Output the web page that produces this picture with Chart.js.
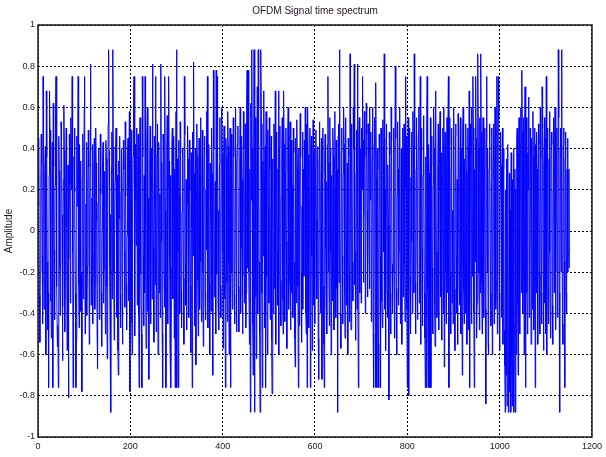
<!DOCTYPE html>
<html>
<head>
<meta charset="utf-8">
<script src="https://cdn.jsdelivr.net/npm/chart.js@4"></script>
<style>
  body { margin: 0; background: #fff; }
  #wrap { width: 606px; height: 457px; }
</style>
</head>
<body>
<div id="wrap"><canvas id="signal" width="606" height="457"></canvas></div>
<script>
// chart text
const chartTitle = "OFDM Signal time spectrum";
const yTitle = "Amplitude";

// tick positions and labels
const xTicks = [0, 200, 400, 600, 800, 1000, 1200];
const xTickLabels = ["0", "200", "400", "600", "800", "1000", "1200"];
const yTicks = [-1, -0.8, -0.6, -0.4, -0.2, 0, 0.2, 0.4, 0.6, 0.8, 1];
const yTickLabels = ["-1", "-0.8", "-0.6", "-0.4", "-0.2", "0", "0.2", "0.4", "0.6", "0.8", "1"];

// signal amplitude, one value per sample
const amplitude = [
  0.12, 0.35, 0.45, -0.31, -0.54, -0.2, 0.21, 0.47, 0.33, -0.12, -0.45, 0.75, 0.42, -0.38, -0.22, 0.29, 0.41, -0.6, 0.68, 0.36, -0.15, -0.48, -0.3, -0.76,
  0.27, 0.68, 0.49, -0.34, -0.21, -0.52, 0.14, 0.43, -0.76, 0.62, 0.31, -0.09, -0.43, 0.22, 0.57, 0.75, 0.38, -0.27, -0.56, -0.46, -0.76, 0.46, 0.29, -0.18,
  -0.41, -0.29, 0.53, 0.44, 0.08, -0.63, -0.37, 0.25, 0.61, 0.39, -0.49, -0.24, 0.17, 0.5, 0.02, -0.58, -0.35, 0.32, -0.81, -0.13, 0.47, 0.23, -0.35, 0.55,
  0.4, 0.2, 0.75, -0.1, -0.76, -0.44, 0.36, 0.5, 0.19, -0.3, -0.76, -0.53, 0.46, 0.12, 0.3, 0.75, -0.26, -0.47, 0.42, 0.07, 0.34, -0.39, -0.2, -0.78,
  0.26, 0.47, -0.33, -0.06, 0.59, 0.75, -0.5, -0.28, 0.13, 0.43, -0.41, -0.17, 0.2, 0.49, 0.31, -0.55, 0.09, 0.38, 0.81, -0.36, -0.22, 0.16, 0.42, -0.45,
  -0.11, 0.28, 0.45, -0.38, -0.25, 0.5, 0.33, 0.05, -0.48, -0.67, 0.14, 0.4, 0.22, -0.43, -0.07, 0.47, 0.18, -0.3, -0.56, 0.01, 0.36, 0.43, -0.35, -0.19,
  0.29, 0.11, -0.5, 0.44, 0.35, -0.27, -0.62, 0.2, 0.52, 0.88, 0.39, -0.14, -0.46, 0.08, -0.88, 0.31, 0.48, -0.33, 0.88, 0.41, -0.2, -0.53, -0.04, 0.24,
  0.37, 0.5, -0.42, -0.16, 0.27, -0.58, -0.7, 0.34, 0.06, 0.46, -0.31, -0.47, 0.19, 0.4, -0.23, -0.55, 0.13, 0.44, 0.3, -0.09, -0.37, 0.53, 0.17, -0.26,
  -0.48, -0.02, 0.39, 0.45, -0.34, 0.21, 0.58, -0.78, -0.19, 0.32, 0.49, -0.44, -0.6, 0.1, 0.36, 0.63, 0.75, -0.28, -0.51, 0.42, 0.15, -0.07, 0.5, -0.36,
  0.23, 0.47, -0.4, -0.76, 0.3, 0.55, 0.41, -0.21, -0.5, -0.76, 0.75, 0.36, -0.12, -0.46, 0.27, -0.3, 0.75, 0.04, -0.57, -0.24, 0.44, 0.6, -0.39, 0.16,
  -0.72, -0.17, 0.35, 0.51, -0.45, 0.22, 0.4, -0.33, 0.81, 0.29, -0.08, -0.54, 0.46, 0.12, -0.26, 0.75, -0.49, -0.14, 0.37, 0.52, -0.6, 0.25, 0.43, -0.3,
  0.18, -0.42, 0.81, 0.33, -0.05, -0.5, -0.76, 0.47, 0.39, -0.2, -0.37, 0.75, 0.1, -0.76, -0.28, 0.41, 0.56, -0.45, 0.2, 0.75, 0.34, -0.13, -0.58, 0.27,
  -0.76, -0.18, 0.42, 0.5, -0.33, 0.14, 0.46, -0.52, 0.3, -0.76, 0.21, 0.58, 0.88, -0.76, 0.35, -0.1, -0.76, 0.44, 0.17, -0.4, 0.53, 0.38, -0.29, -0.47,
  0.09, 0.4, 0.32, -0.23, -0.55, 0.75, 0.47, -0.16, -0.36, 0.25, -0.48, 0.13, 0.51, 0.35, -0.07, -0.42, 0.44, 0.2, -0.27, -0.59, 0.38, 0.02, -0.76, 0.48,
  -0.12, 0.82, 0.28, -0.34, -0.46, 0.4, -0.65, 0.19, 0.52, 0.36, -0.24, -0.51, 0.08, 0.45, -0.38, 0.26, 0.55, -0.15, -0.44, 0.31, 0.49, -0.2, -0.56, 0.11,
  0.37, 0.46, -0.3, -0.43, 0.2, 0.58, -0.09, 0.75, -0.47, 0.15, 0.42, -0.26, -0.6, 0.33, 0.06, -0.39, 0.5, 0.28, -0.18, -0.7, 0.78, 0.4, -0.32, -0.14,
  0.24, -0.5, 0.78, -0.21, 0.75, 0.44, -0.35, 0.1, -0.48, 0.32, 0.55, -0.27, -0.42, 0.17, 0.6, 0.38, -0.1, -0.57, 0.29, 0.51, -0.33, 0.03, -0.76, 0.45,
  0.36, -0.25, -0.44, 0.58, 0.41, -0.15, -0.6, 0.22, 0.5, -0.76, 0.3, 0.47, -0.2, -0.38, 0.14, 0.55, 0.36, -0.31, -0.45, 0.2, 0.6, -0.12, -0.49, 0.33,
  0.42, 0.51, -0.27, -0.49, 0.18, 0.35, 0.6, -0.4, -0.08, 0.46, 0.25, -0.5, -0.22, 0.58, 0.4, -0.35, 0.05, 0.52, -0.47, -0.3, 0.63, 0.78, -0.18, 0.78,
  0.5, -0.2, -0.55, 0.3, -0.88, 0.62, 0.15, 0.88, 0.4, -0.45, -0.7, 0.2, 0.88, -0.88, 0.48, 0.55, -0.32, -0.62, 0.27, 0.7, -0.4, 0.88, 0.6, -0.15,
  -0.5, -0.88, 0.45, 0.88, 0.52, -0.3, -0.76, 0.34, -0.12, 0.68, 0.26, -0.47, 0.41, -0.76, 0.58, 0.37, -0.22, -0.6, 0.49, 0.12, -0.35, 0.55, 0.3, -0.43,
  -0.18, 0.46, -0.52, -0.79, 0.35, 0.1, -0.4, 0.52, 0.43, -0.28, 0.68, -0.55, 0.24, 0.48, -0.1, -0.36, 0.3, 0.68, -0.6, 0.4, 0.51, -0.24, -0.46, 0.17,
  0.36, 0.55, -0.33, -0.5, 0.68, 0.42, -0.2, -0.44, 0.28, 0.5, -0.05, -0.57, 0.2, 0.47, 0.6, -0.38, -0.25, 0.32, 0.53, -0.48, 0.14, 0.44, -0.3, 0.22,
  -0.42, 0.5, 0.38, -0.15, -0.52, -0.66, 0.45, 0.08, -0.35, 0.54, 0.31, -0.27, -0.76, 0.4, -0.46, 0.25, 0.57, 0.36, -0.2, -0.54, 0.12, 0.48, -0.38, 0.3,
  -0.22, 0.44, 0.2, 0.6, -0.4, -0.5, 0.52, -0.76, 0.6, 0.37, -0.28, -0.47, 0.15, 0.5, -0.76, 0.33, 0.46, -0.12, -0.58, 0.26, 0.54, -0.36, -0.2, 0.4,
  -0.45, 0.3, 0.49, 0.06, -0.33, 0.22, 0.41, -0.52, -0.72, 0.35, 0.53, -0.16, -0.4, 0.18, 0.45, -0.72, 0.28, 0.5, -0.27, -0.55, -0.76, 0.36, 0.47, -0.08,
  -0.37, 0.24, -0.5, 0.42, 0.75, 0.33, -0.2, -0.46, 0.55, 0.4, -0.1, -0.6, 0.27, 0.05, -0.34, 0.5, 0.36, -0.48, -0.18, 0.58, 0.2, -0.42, 0.44, -0.28,
  0.3, -0.88, 0.46, 0.52, -0.25, 0.88, 0.15, -0.4, -0.57, 0.38, 0.5, -0.12, -0.45, 0.28, 0.6, 0.42, -0.3, -0.52, 0.2, 0.55, -0.06, -0.36, 0.33, -0.6,
  0.45, 0.37, -0.2, -0.44, 0.86, 0.3, -0.48, 0.52, 0.43, -0.15, -0.34, 0.6, 0.4, 0.81, -0.26, -0.1, -0.53, 0.28, 0.49, -0.38, 0.81, -0.22, -0.76, 0.46,
  0.55, -0.3, 0.12, 0.4, -0.35, 0.5, 0.2, 0.75, 0.44, -0.25, 0.07, 0.58, 0.36, -0.4, -0.18, 0.62, 0.47, 0.1, -0.32, 0.52, 0.38, -0.06, -0.28, 0.6,
  0.15, 0.48, -0.44, -0.2, 0.35, 0.6, -0.5, -0.76, 0.42, 0.55, -0.3, -0.76, 0.72, 0.26, -0.76, 0.4, 0.3, -0.55, -0.76, 0.47, 0.38, -0.12, -0.76, 0.5,
  0.28, -0.34, -0.47, 0.54, 0.4, -0.1, 0.86, -0.38, 0.2, -0.58, 0.45, 0.52, -0.25, -0.42, 0.32, 0.03, -0.82, 0.48, 0.37, -0.3, -0.5, 0.6, 0.44, -0.16,
  -0.4, -0.2, 0.25, 0.5, -0.52, 0.36, 0.8, 0.45, -0.28, -0.6, 0.18, 0.53, 0.3, -0.36, -0.1, 0.47, 0.6, -0.45, -0.24, 0.4, -0.55, 0.22, 0.5, -0.32,
  0.34, 0.52, -0.15, -0.44, 0.75, 0.2, 0.46, -0.38, -0.76, 0.3, 0.55, -0.8, 0.38, 0.5, -0.22, -0.5, 0.26, 0.48, -0.05, -0.4, 0.58, 0.42, -0.3, 0.86,
  0.4, -0.25, -0.5, 0.3, 0.55, -0.12, -0.43, 0.22, 0.48, 0.6, -0.35, -0.2, 0.75, -0.55, 0.38, 0.5, -0.08, -0.46, 0.27, 0.56, 0.43, -0.3, -0.52, -0.76,
  0.36, -0.76, 0.5, 0.75, -0.28, -0.76, 0.42, 0.28, -0.4, -0.76, 0.55, -0.76, 0.32, 0.46, -0.18, -0.5, 0.22, 0.6, 0.4, -0.36, -0.56, 0.68, 0.48, -0.1,
  -0.42, -0.24, 0.3, 0.52, -0.48, 0.2, 0.45, 0.58, -0.32, -0.15, 0.38, -0.53, 0.27, 0.5, -0.4, 0.6, -0.66, 0.35, 0.48, -0.2, -0.45, 0.3, 0.55, -0.3,
  0.4, 0.75, -0.76, 0.42, 0.55, -0.2, -0.5, 0.3, 0.5, -0.35, 0.1, -0.45, 0.6, 0.38, -0.28, -0.58, 0.46, 0.52, -0.12, -0.4, 0.25, -0.55, 0.57, 0.44,
  -0.22, -0.36, 0.3, 0.55, -0.5, 0.4, -0.18, -0.7, 0.48, 0.6, -0.28, -0.45, 0.35, 0.1, -0.4, 0.52, 0.28, -0.55, -0.2, 0.5, 0.4, -0.48, 0.68, -0.76,
  0.36, 0.52, -0.3, -0.45, 0.6, -0.22, 0.75, 0.5, -0.4, -0.76, 0.3, -0.15, 0.75, 0.45, -0.52, -0.35, 0.58, 0.86, 0.4, -0.2, -0.48, 0.55, -0.3, 0.86,
  0.48, -0.25, -0.5, 0.35, 0.55, -0.12, -0.42, 0.3, 0.5, -0.38, -0.84, 0.44, 0.75, -0.2, 0.4, -0.55, -0.6, 0.3, 0.52, 0.42, -0.3, -0.46, 0.25, 0.5,
  -0.6, -0.2, 0.35, 0.52, -0.45, 0.3, 0.6, 0.45, -0.38, -0.25, 0.75, -0.5, 0.4, 0.75, 0.55, -0.3, -0.58, 0.2, 0.48, 0.32, -0.42, -0.1, 0.5, -0.55,
  0.3, 0.4, -0.48, -0.65, -0.88, 0.2, -0.7, 0.35, -0.85, -0.4, 0.42, -0.88, -0.55, 0.28, -0.78, 0.1, -0.88, 0.38, -0.6, -0.85, 0.25, -0.5, 0.4, -0.88,
  -0.45, 0.3, -0.88, 0.2, -0.6, 0.45, 0.5, -0.35, -0.7, 0.38, 0.55, -0.2, -0.5, 0.42, 0.6, -0.3, 0.78, 0.48, -0.4, -0.25, 0.55, -0.6, 0.35, 0.7,
  -0.76, 0.46, 0.55, -0.3, -0.5, 0.38, 0.2, 0.65, -0.42, -0.2, 0.5, 0.32, -0.55, 0.45, 0.1, -0.38, 0.58, 0.36, -0.48, -0.25, 0.5, -0.76, 0.42, -0.3,
  0.48, 0.3, -0.4, -0.55, 0.52, 0.42, -0.2, -0.5, 0.6, 0.35, -0.3, -0.45, 0.7, 0.5, -0.15, -0.58, 0.3, 0.55, -0.35, 0.45, -0.5, 0.75, -0.6, 0.4,
  0.5, -0.28, -0.45, 0.35, 0.58, -0.1, -0.52, 0.3, 0.48, 0.42, -0.36, -0.55, 0.2, 0.55, -0.3, 0.45, 0.6, -0.48, -0.2, 0.38, 0.5, -0.42, -0.35, 0.88,
  0.55, -0.3, -0.88, 0.4, 0.5, -0.2, 0.88, 0.3, -0.45, -0.55, 0.42, 0.5, -0.15, -0.76, 0.35, 0.48, -0.3, -0.4, 0.3, 0.45, -0.2, -0.1, 0.3, -0.18
];

const textColor = "#241424";
const fontName = '"Liberation Sans", Arial, sans-serif';

// title over the middle of the plot box, and the closed box around it
const framePlugin = {
  id: "frame",
  afterDraw(chart) {
    const ctx = chart.ctx;
    const area = chart.chartArea;
    ctx.save();
    ctx.strokeStyle = "#1a1a1a";
    ctx.lineWidth = 1.5;
    ctx.strokeRect(area.left, area.top, area.right - area.left, area.bottom - area.top);
    ctx.fillStyle = textColor;
    ctx.font = "10px " + fontName;
    ctx.textAlign = "center";
    ctx.textBaseline = "middle";
    ctx.fillText(chartTitle, (area.left + area.right) / 2, 11);
    ctx.restore();
  }
};

const points = amplitude.map((v, i) => ({ x: i, y: v }));

new Chart(document.getElementById("signal"), {
  type: "line",
  data: {
    datasets: [{
      data: points,
      borderColor: "#0000ff",
      borderWidth: 1,
      pointRadius: 0,
      tension: 0,
      fill: false
    }]
  },
  options: {
    responsive: false,
    animation: false,
    events: [],
    layout: { padding: { top: 25, right: 13, left: 0, bottom: 0 } },
    plugins: {
      legend: { display: false },
      title: { display: false },
      tooltip: { enabled: false }
    },
    scales: {
      x: {
        type: "linear",
        min: 0,
        max: 1200,
        z: 1,
        afterBuildTicks: (axis) => { axis.ticks = xTicks.map(v => ({ value: v })); },
        afterFit: (axis) => { axis.height = 20; },
        ticks: {
          autoSkip: false,
          maxRotation: 0,
          padding: 4,
          color: textColor,
          font: { family: fontName, size: 9 },
          callback: (value, index) => xTickLabels[index]
        },
        grid: { color: "#000", lineWidth: 1, drawTicks: false },
        border: { display: false, dash: [2, 2] }
      },
      y: {
        min: -1,
        max: 1,
        z: 1,
        afterBuildTicks: (axis) => { axis.ticks = yTicks.map(v => ({ value: v })); },
        afterFit: (axis) => { axis.width = 38; },
        ticks: {
          autoSkip: false,
          padding: 3,
          color: textColor,
          font: { family: fontName, size: 9 },
          callback: (value, index) => yTickLabels[index]
        },
        grid: { color: "#000", lineWidth: 1, drawTicks: false },
        border: { display: false, dash: [2, 2] },
        title: {
          display: true,
          text: yTitle,
          color: textColor,
          font: { family: fontName, size: 10 },
          padding: { top: 3, bottom: 0 }
        }
      }
    }
  },
  plugins: [framePlugin]
});
</script>
</body>
</html>
